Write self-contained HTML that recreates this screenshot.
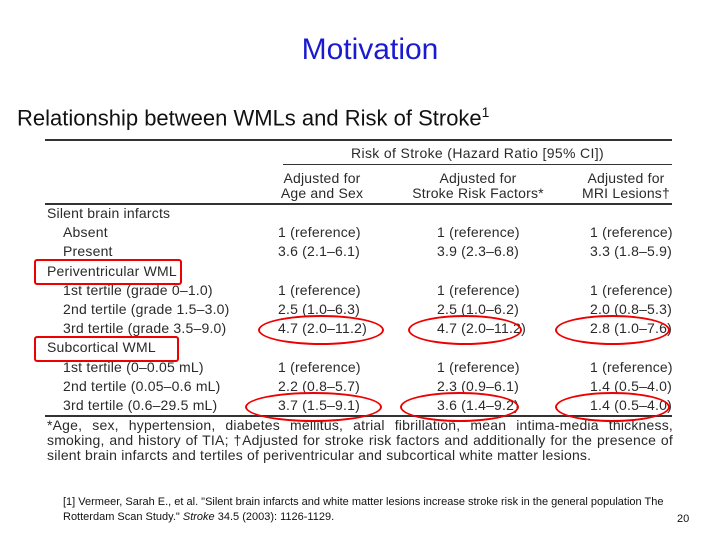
<!DOCTYPE html>
<html><head><meta charset="utf-8"><style>
body{margin:0;width:720px;height:540px;background:#fff;position:relative;overflow:hidden;font-family:"Liberation Sans",sans-serif}
.a{position:absolute;white-space:nowrap}
.t{font-size:14px;color:#2a2a2a;line-height:15px;letter-spacing:0.2px}
.c{text-align:center}
.ln{position:absolute;background:#333}
.box{position:absolute;border:2.5px solid #e00;border-radius:3px}
.el{position:absolute;border:2.5px solid #e00;border-radius:50%}
</style></head><body>
<div class="a" style="left:0;width:740px;top:33px;text-align:center;font-size:30px;color:#1a1ad0">Motivation</div>
<div class="a" style="left:17px;top:104px;font-size:22px;color:#111">Relationship between WMLs and Risk of Stroke<sup style="font-size:14px">1</sup></div>
<div>
<div class="ln" style="left:45px;top:139px;width:627px;height:2px"></div>
<div class="a t c" style="left:283px;width:389px;top:146px;letter-spacing:0.35px">Risk of Stroke (Hazard Ratio [95% CI])</div>
<div class="ln" style="left:283px;top:164px;width:389px;height:1px"></div>
<div class="a t c" style="left:262px;width:120px;top:171px">Adjusted for<br>Age and Sex</div>
<div class="a t c" style="left:403px;width:150px;top:171px">Adjusted for<br>Stroke Risk Factors*</div>
<div class="a t c" style="left:580px;width:92px;top:171px">Adjusted for<br>MRI Lesions†</div>
<div class="ln" style="left:45px;top:203px;width:627px;height:2px"></div>
<div id="rows"></div>
<div class="ln" style="left:45px;top:415px;width:627px;height:2px"></div>
<div class="a t" style="left:47px;top:418px;line-height:15px;width:626px;white-space:normal;text-align:justify;letter-spacing:0.2px">*Age, sex, hypertension, diabetes mellitus, atrial fibrillation, mean intima-media thickness, smoking, and history of TIA; †Adjusted for stroke risk factors and additionally for the presence of silent brain infarcts and tertiles of periventricular and subcortical white matter lesions.</div>
</div>
<div class="box" style="left:34px;top:259px;width:144px;height:22px"></div>
<div class="box" style="left:34px;top:336px;width:141px;height:22px"></div>
<div class="el" style="left:258px;top:315px;width:122px;height:26px"></div>
<div class="el" style="left:408px;top:315px;width:110px;height:26px"></div>
<div class="el" style="left:555px;top:315px;width:111px;height:26px"></div>
<div class="el" style="left:245px;top:392px;width:133px;height:26px"></div>
<div class="el" style="left:400px;top:392px;width:115px;height:26px"></div>
<div class="el" style="left:555px;top:392px;width:111px;height:26px"></div>
<div class="a" style="left:63px;top:495px;font-size:11px;line-height:15px;color:#111">[1] Vermeer, Sarah E., et al. "Silent brain infarcts and white matter lesions increase stroke risk in the general population The<br>Rotterdam Scan Study." <i>Stroke</i> 34.5 (2003): 1126-1129.</div>
<div class="a" style="left:677px;top:513px;font-size:11px;color:#111">20</div>
<script>
const labels=["Silent brain infarcts","Absent","Present","Periventricular WML","1st tertile (grade 0–1.0)","2nd tertile (grade 1.5–3.0)","3rd tertile (grade 3.5–9.0)","Subcortical WML","1st tertile (0–0.05 mL)","2nd tertile (0.05–0.6 mL)","3rd tertile (0.6–29.5 mL)"];
const col1=["","1 (reference)","3.6 (2.1–6.1)","","1 (reference)","2.5 (1.0–6.3)","4.7 (2.0–11.2)","","1 (reference)","2.2 (0.8–5.7)","3.7 (1.5–9.1)"];
const col2=["","1 (reference)","3.9 (2.3–6.8)","","1 (reference)","2.5 (1.0–6.2)","4.7 (2.0–11.2)","","1 (reference)","2.3 (0.9–6.1)","3.6 (1.4–9.2)"];
const col3=["","1 (reference)","3.3 (1.8–5.9)","","1 (reference)","2.0 (0.8–5.3)","2.8 (1.0–7.6)","","1 (reference)","1.4 (0.5–4.0)","1.4 (0.5–4.0)"];
const rows=document.getElementById('rows');
labels.forEach((l,i)=>{
  const y=206+i*19.2;
  const head=col1[i]==="";
  const d=document.createElement('div');
  d.className='a t';d.style.left=(head?47:63)+'px';d.style.top=y+'px';d.textContent=l;
  
  
  rows.appendChild(d);
  [[col1,278],[col2,437],[col3,590]].forEach(([c,x])=>{
    if(!c[i])return;
    const e=document.createElement('div');
    e.className='a t';e.style.left=x+'px';e.style.top=y+'px';e.textContent=c[i];
    
    
    rows.appendChild(e);
  });
});
</script>
</body></html>
